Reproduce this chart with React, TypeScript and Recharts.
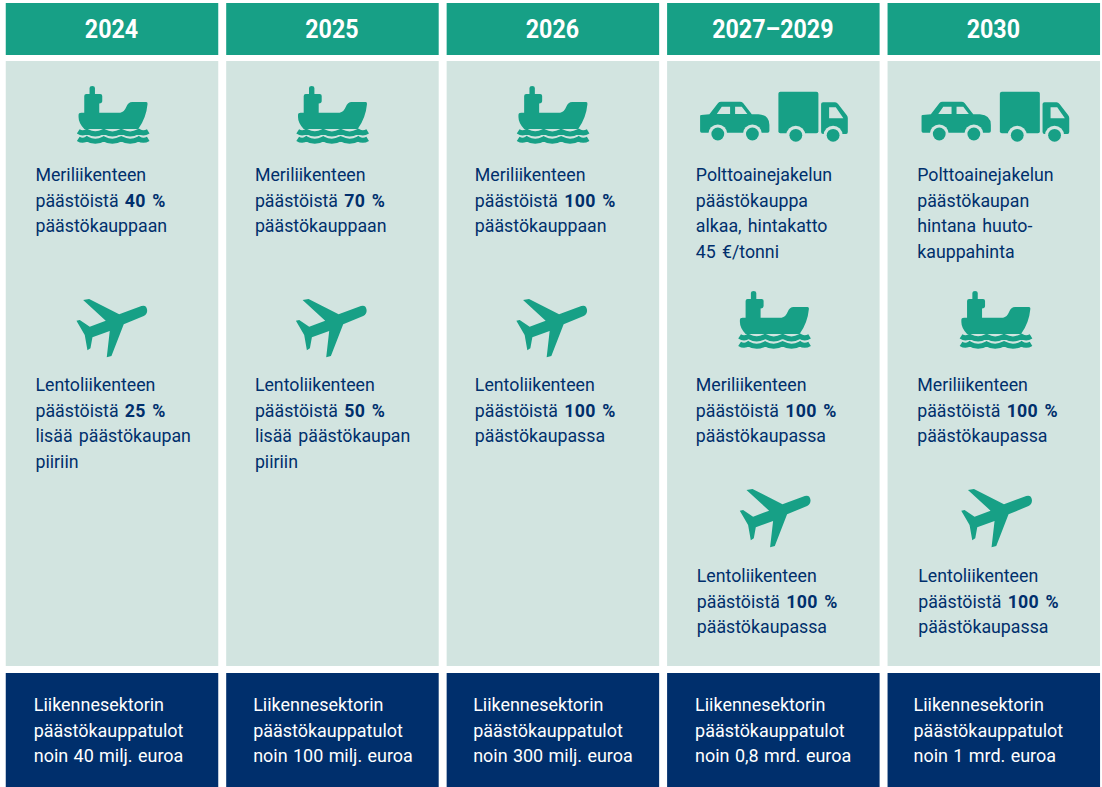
import { BarChart, Bar, XAxis, YAxis } from 'recharts'

// Values
const periods = ['2024', '2025', '2026', '2027–2029', '2030']
const shippingShare = [40, 70, 100, 100, 100]
const aviationShare = [25, 50, 100, 100, 100]
const shippingTail = ['päästökauppaan', 'päästökauppaan', 'päästökauppaan', 'päästökaupassa', 'päästökaupassa']
const aviationTail = [
    ['lisää päästökaupan', 'piiriin'],
    ['lisää päästökaupan', 'piiriin'],
    ['päästökaupassa'],
    ['päästökaupassa'],
    ['päästökaupassa'],
]
const fuelLines = [
    [],
    [],
    [],
    ['Polttoainejakelun', 'päästökauppa', 'alkaa, hintakatto', '45 €/tonni'],
    ['Polttoainejakelun', 'päästökaupan', 'hintana huuto-', 'kauppahinta'],
]
const revenue = ['40 milj.', '100 milj.', '300 milj.', '0,8 mrd.', '1 mrd.']

// Rows of the table, bottom to top, on a 787 tall axis
const FOOTER = 114
const GAP_LOW = 7
const BODY = 605
const GAP_HIGH = 6
const HEADER = 52
const GAP_TOP = 3

const data = periods.map((period, i) => ({
    period,
    shipping: shippingShare[i],
    aviation: aviationShare[i],
    shippingTail: shippingTail[i],
    aviationTail: aviationTail[i],
    fuel: fuelLines[i],
    revenue: revenue[i],
    footer: FOOTER,
    gapLow: GAP_LOW,
    body: BODY,
    gapHigh: GAP_HIGH,
    header: HEADER,
    gapTop: GAP_TOP,
}))

const GREEN = '#17A086'
const PALE = '#D2E4E0'
const NAVY = '#002F6C'
const FONT = 'Roboto, sans-serif'
const LINE = 25.7

const WAVE = 'M0 0 Q4.5 3 8.7 0 Q17 5 25.5 0 Q34 5 43 0 Q52 5 60.5 0 Q65 3 70 0'

function Ship({ x, y }: any) {
    return (
        <g transform={`translate(${x},${y})`} fill={GREEN}>
            <path d="M11.3 2 Q11.3 0 14 0 Q16.7 0 16.7 2 L16.7 8 L22 8 Q24 8 24 10 L24 15 Q24 17 21 17.5 L21 26.7 L42 26.7 Q46 26 48 21 Q50 16 54 16 L68 16 Q69.5 16 69.3 18 Q68 32 60 43 L6 43 Q0.3 37 0.3 31 L0.3 29 Q0.3 26.7 3 26.7 L6 26.7 L6 10 Q6 8 8 8 L11.3 8 Z" />
            <path d={WAVE} transform="translate(0,45.4)" fill="none" stroke={GREEN} strokeWidth={5} />
            <path d={WAVE} transform="translate(0,52.8)" fill="none" stroke={GREEN} strokeWidth={5} />
        </g>
    )
}

function Plane({ x, y }: any) {
    return (
        <g transform={`translate(${x},${y})`} fill={GREEN}>
            <path d="M6.7 1 L12.7 0 L42.7 15.3 L65 7 Q70 5.5 70.7 11 Q71 15 67.3 17 L47.3 25.3 L35 57 L30.3 58.3 L33.3 32 L16 38.3 L14 49.3 L11 51.3 L8.3 36 L0 21.7 L3.3 21 L13.3 27.7 L29.3 21.7 Z" />
        </g>
    )
}

function Vehicles({ x, y }: any) {
    return (
        <g transform={`translate(${x},${y})`} fill={GREEN}>
            <path d="M1 24 L9.3 23.3 L18 12 Q19 10.7 21 10.7 L40 10.7 Q41.7 10.7 43 12 L51.7 23.3 L58.3 23.3 Q69.3 24 69.3 34 L69.3 40 Q69.3 41.7 67.5 41.7 L1.5 41.7 Q0 41.7 0 40 L0 25 Q0 24 1 24 Z" />
            <path d="M16.7 23 L21.7 15.7 L30 15.7 L30 23 Z M35 15.7 L41.7 15.7 L47.3 23 L35 23 Z" fill={PALE} />
            <circle cx={17.7} cy={43} r={9.5} fill={PALE} />
            <circle cx={52.3} cy={43} r={9.5} fill={PALE} />
            <circle cx={17.7} cy={43} r={6.4} />
            <circle cx={52.3} cy={43} r={6.4} />
            <rect x={78.3} y={0.7} width={40} height={41.6} rx={2} />
            <path d="M121 13 Q121 11.3 123 11.3 L135 11.3 Q136.7 11.3 138 13 L146.5 24 Q147.7 25.7 147.7 27 L147.7 41 Q147.7 43 146 43 L123 43 Q121 43 121 41 Z" />
            <path d="M129 16.3 L135.7 16.3 L143.3 27.3 L129 27.3 Z" fill={PALE} />
            <circle cx={95.7} cy={44.3} r={9.5} fill={PALE} />
            <circle cx={133} cy={44.3} r={9.5} fill={PALE} />
            <circle cx={95.7} cy={44.3} r={6.4} />
            <circle cx={133} cy={44.3} r={6.4} />
        </g>
    )
}

// The original type is a bit condensed, so Roboto is squeezed sideways
function Lines({ x, y, lines, fill = NAVY, squeeze = 0.935, gap = 2 }: any) {
    return (
        <text
            transform={`translate(${x},${y}) scale(${squeeze},1)`}
            fontFamily={FONT}
            fontSize={19}
            fill={fill}
            wordSpacing={gap}
        >
            {lines.map((line: any, i: number) => (
                <tspan key={i} x={0} y={i * LINE}>
                    {line}
                </tspan>
            ))}
        </text>
    )
}

const share = (value: number) => (
    <>
        päästöistä <tspan fontWeight={700} letterSpacing={0.3}>{value} %</tspan>
    </>
)

function HeaderCell(props: any) {
    const { x, y, width, height, payload } = props
    return (
        <g>
            <rect x={x} y={y} width={width} height={height} fill={GREEN} />
            <text
                transform={`translate(${x + width / 2 - 0.5},${y + 35}) scale(0.93,1)`}
                textAnchor="middle"
                fontFamily={FONT}
                fontWeight={700}
                fontSize={25}
                fill="#FFFFFF"
            >
                {payload.period}
            </text>
        </g>
    )
}

const textInsets = [29.7, 28.7, 28.2, 28.7, 29.7]
const shipInsets = [72.5, 71.5, 71.5, 72.5, 73.5]
const planeInsets = [70.7, 69.7, 69.7, 72.7, 73.7]
const vehicleInsets = [33, 33, 33, 33, 34]

function BodyCell(props: any) {
    const { x, y, width, height, payload, index } = props
    const tx = x + textInsets[index]
    const hasFuel = payload.fuel.length > 0
    const shipLines = ['Meriliikenteen', share(payload.shipping), payload.shippingTail]
    const planeLines = ['Lentoliikenteen', share(payload.aviation), ...payload.aviationTail]
    return (
        <g>
            <rect x={x} y={y} width={width} height={height} fill={PALE} />
            {hasFuel ? (
                <>
                    <Vehicles x={x + vehicleInsets[index]} y={y + 30} />
                    <Lines x={tx} y={y + 120} lines={payload.fuel} />
                    <Ship x={x + shipInsets[index]} y={y + 230} />
                    <Lines x={tx} y={y + 330} lines={shipLines} />
                    <Plane x={x + planeInsets[index]} y={y + 428} />
                    <Lines x={tx + 1} y={y + 521} lines={planeLines} />
                </>
            ) : (
                <>
                    <Ship x={x + shipInsets[index]} y={y + 25} />
                    <Lines x={tx} y={y + 120} lines={shipLines} />
                    <Plane x={x + planeInsets[index]} y={y + 238} />
                    <Lines x={tx} y={y + 330} lines={planeLines} />
                </>
            )}
        </g>
    )
}

const footerInsets = [28, 27, 26.5, 28, 26]

function FooterCell(props: any) {
    const { x, y, width, height, payload, index } = props
    return (
        <g>
            <rect x={x} y={y} width={width} height={height} fill={NAVY} />
            <Lines
                x={x + footerInsets[index]}
                y={y + 38}
                fill="#FFFFFF"
                squeeze={0.945}
                gap={1}
                lines={['Liikennesektorin', 'päästökauppatulot', `noin ${payload.revenue} euroa`]}
            />
        </g>
    )
}

export default function App() {
    return (
        <div style={{ position: 'absolute', left: 0, top: 0, width: 1102, height: 787, overflow: 'hidden', background: '#FFFFFF' }}>
            <BarChart
                width={1104}
                height={787}
                data={data}
                barSize={212.5}
                margin={{ top: 0, right: 0, bottom: 0, left: 1.75 }}
            >
                <XAxis dataKey="period" hide />
                <YAxis hide domain={[0, 787]} allowDataOverflow />
                <Bar dataKey="footer" stackId="t" shape={<FooterCell />} isAnimationActive={false} />
                <Bar dataKey="gapLow" stackId="t" fill="none" isAnimationActive={false} />
                <Bar dataKey="body" stackId="t" shape={<BodyCell />} isAnimationActive={false} />
                <Bar dataKey="gapHigh" stackId="t" fill="none" isAnimationActive={false} />
                <Bar dataKey="header" stackId="t" shape={<HeaderCell />} isAnimationActive={false} />
                <Bar dataKey="gapTop" stackId="t" fill="none" isAnimationActive={false} />
            </BarChart>
        </div>
    )
}
